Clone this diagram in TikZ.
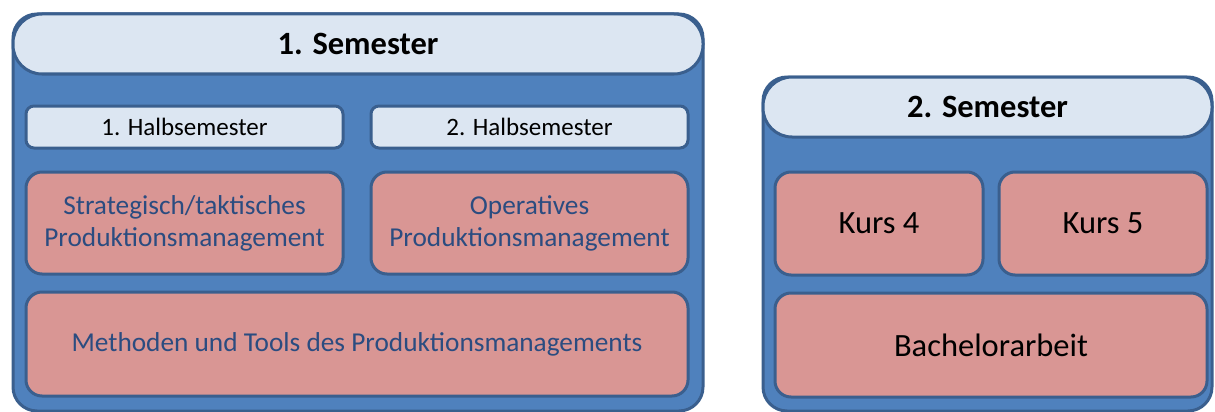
\documentclass[tikz,border=0pt]{standalone}
\usepackage{fontspec}
\setmainfont{Carlito}
\definecolor{bordc}{HTML}{3A5F8E}
\definecolor{bluefill}{HTML}{4F81BD}
\definecolor{lightfill}{HTML}{DCE6F2}
\definecolor{redfill}{HTML}{D99694}
\definecolor{darktext}{HTML}{2B4C80}
\tikzset{
  box/.style={draw=bordc, line width=3pt, inner sep=0pt, align=center},
  semester/.style={box, fill=bluefill, rounded corners=24pt},
  header/.style={box, fill=lightfill, rounded corners=29pt, font=\fontsize{32.5}{38}\selectfont\bfseries},
  halb/.style={box, fill=lightfill, rounded corners=8pt, font=\fontsize{25}{30}\selectfont},
  kurs/.style={box, fill=redfill, rounded corners=16pt},
  kursblue/.style={kurs, text=darktext, font=\fontsize{27.3}{32}\selectfont},
  kursblack/.style={kurs, font=\fontsize{32.5}{38}\selectfont},
}
\begin{document}
\begin{tikzpicture}[x=1pt, y=-1pt]
  \useasboundingbox (0,0) rectangle (1215,412);
  % first semester
  \node[semester, minimum width=690pt, minimum height=397pt] (sem1) at (358,212.5) {};
  \node[header, minimum width=690pt, minimum height=60pt] (head1) at (358,44) {1. Semester};
  \node[halb, minimum width=317pt, minimum height=42pt] (halb1) at (184.5,127) {1. Halbsemester};
  \node[halb, minimum width=317pt, minimum height=42pt] (halb2) at (529.5,127) {2. Halbsemester};
  \node[kursblue, minimum width=317pt, minimum height=102pt] (strat) at (184.5,223) {Strategisch/taktisches\\Produktionsmanagement};
  \node[kursblue, minimum width=317pt, minimum height=102pt] (oper) at (529.5,223) {Operatives\\Produktionsmanagement};
  \node[kursblue, minimum width=662pt, minimum height=104pt] (meth) at (357,344) {Methoden und Tools des Produktionsmanagements};
  % second semester
  \node[semester, minimum width=449pt, minimum height=334pt] (sem2) at (987.5,244) {};
  \node[header, minimum width=449pt, minimum height=60pt] (head2) at (987.5,107) {2. Semester};
  \node[kursblack, minimum width=208pt, minimum height=103pt] (kurs4) at (879,223.5) {Kurs 4};
  \node[kursblack, minimum width=208pt, minimum height=103pt] (kurs5) at (1103,223.5) {Kurs 5};
  \node[kursblack, minimum width=432pt, minimum height=104pt] (bach) at (991,345) {Bachelorarbeit};
\end{tikzpicture}
\end{document}
